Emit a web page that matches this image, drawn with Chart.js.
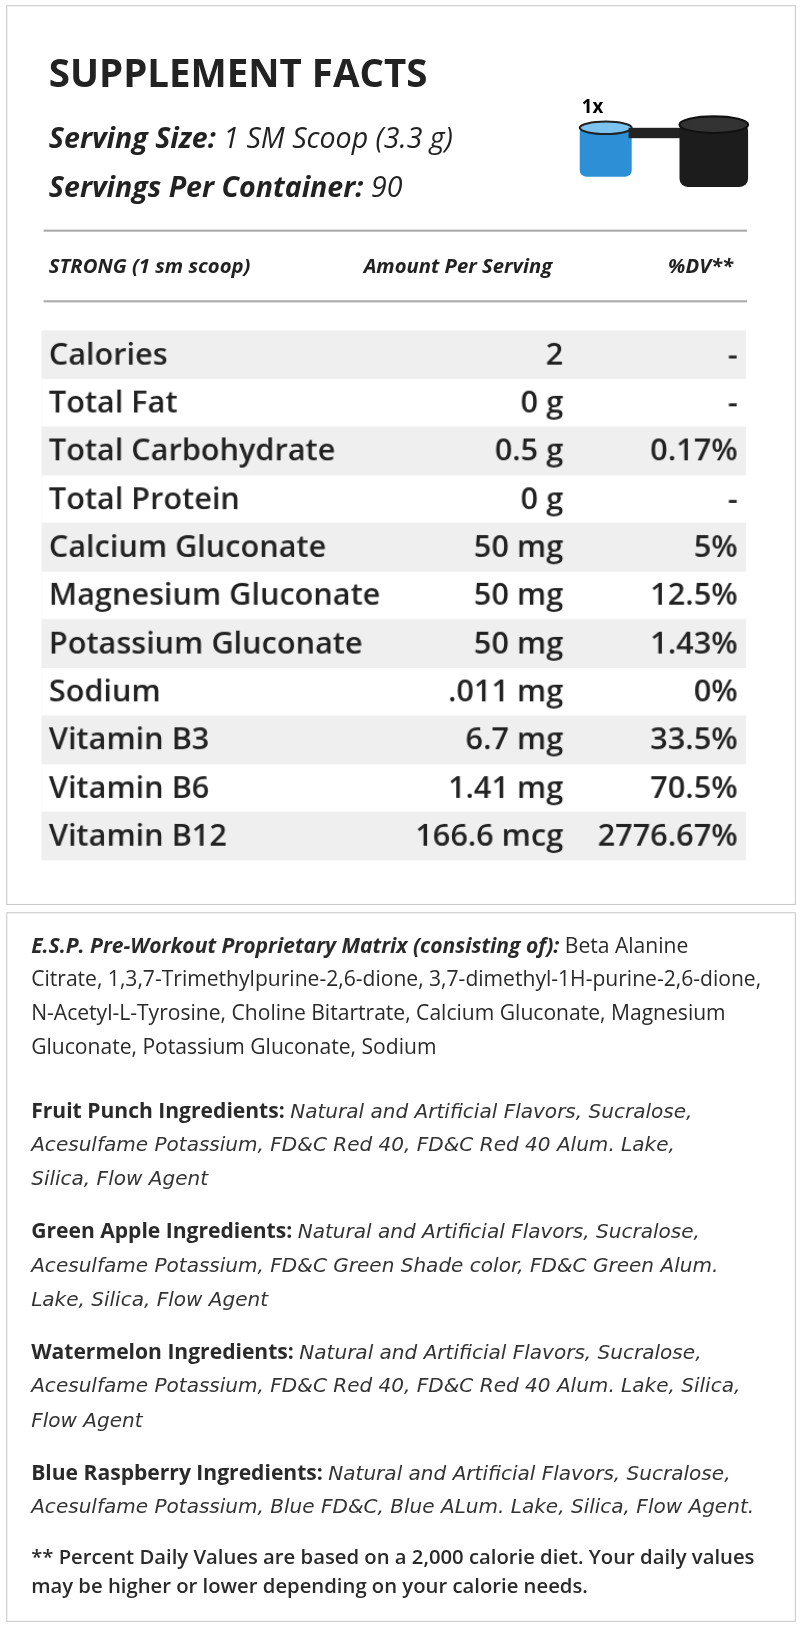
<!DOCTYPE html>
<html><head><meta charset="utf-8">
<script src="https://cdn.jsdelivr.net/npm/chart.js@4"></script>
<style>
body{margin:0;background:#fff;font-family:"Open Sans",sans-serif;color:#222;width:800px;height:1627px;overflow:hidden}
#w{position:absolute;left:0;top:0;width:770px;height:1566px;transform:scale(1.039);transform-origin:0 0}
.box{position:absolute;border:1px solid #c8c8c8;box-sizing:border-box}
.abs{position:absolute;white-space:nowrap}
.hr{position:absolute;left:42px;width:677px;height:2px;background:#aaa}
p{margin:0}
#b2 p{font-size:20.3px;line-height:32.3px;color:#2a2a2a}
#b2 i.f{font-family:"DejaVu Sans";font-size:19.3px;color:#333;line-height:1}
</style></head><body><div id="w">
<div class="box" style="left:6px;top:5px;width:760px;height:866px"></div>
<div class="abs" style="left:47px;top:44px;font-size:37px;font-weight:700">SUPPLEMENT FACTS</div>
<div class="abs" style="left:47px;top:113px;font-size:27.5px;font-weight:700;font-style:italic">Serving Size: <span style="font-weight:400">1 SM Scoop (3.3 g)</span></div>
<div class="abs" style="left:47px;top:161px;font-size:27.5px;font-weight:700;font-style:italic">Servings Per Container: <span style="font-weight:400">90</span></div>
<svg class="abs" style="left:550px;top:90px" width="180" height="95">
<text x="10" y="19" font-size="18" font-weight="700" font-family="Open Sans">1x</text>
<rect x="8" y="32" width="50" height="48" rx="6" fill="#2d8fd5"/>
<ellipse cx="33" cy="33" rx="25" ry="6" fill="#7cc3ef" stroke="#222" stroke-width="2"/>
<rect x="55" y="33" width="50" height="10" fill="#222"/>
<rect x="104" y="28" width="66" height="62" rx="8" fill="#1c1c1c"/>
<ellipse cx="137" cy="30" rx="33" ry="8" fill="#333" stroke="#111" stroke-width="2"/>
</svg>
<div class="hr" style="top:221px"></div>
<div class="abs" style="left:47px;top:242px;font-size:19.5px;font-weight:700;font-style:italic">STRONG (1 sm scoop)</div>
<div class="abs" style="left:350px;top:242px;font-size:19.5px;font-weight:700;font-style:italic">Amount Per Serving</div>
<div class="abs" style="left:643px;top:242px;font-size:19.5px;font-weight:700;font-style:italic">%DV**</div>
<div class="hr" style="top:289px"></div>
<div class="abs" style="left:40px;top:318px;width:678px;height:510px"><canvas id="c"></canvas></div>

<div class="box" style="left:6px;top:878px;width:760px;height:683px"></div>
<div id="b2" class="abs" style="left:30px;top:893px;width:722px;white-space:normal">
<p><b><i>E.S.P. Pre-Workout Proprietary Matrix (consisting of):</i></b> Beta Alanine<br>Citrate, 1,3,7-Trimethylpurine-2,6-dione, 3,7-dimethyl-1H-purine-2,6-dione,<br>N-Acetyl-L-Tyrosine, Choline Bitartrate, Calcium Gluconate, Magnesium<br>Gluconate, Potassium Gluconate, Sodium</p>
<p style="margin-top:30px"><b>Fruit Punch Ingredients:</b> <i class="f">Natural and Artificial Flavors, Sucralose,<br>Acesulfame Potassium, FD&amp;C Red 40, FD&amp;C Red 40 Alum. Lake,<br>Silica, Flow Agent</i></p>
<p style="margin-top:19px"><b>Green Apple Ingredients:</b> <i class="f">Natural and Artificial Flavors, Sucralose,<br>Acesulfame Potassium, FD&amp;C Green Shade color, FD&amp;C Green Alum.<br>Lake, Silica, Flow Agent</i></p>
<p style="margin-top:19px"><b>Watermelon Ingredients:</b> <i class="f">Natural and Artificial Flavors, Sucralose,<br>Acesulfame Potassium, FD&amp;C Red 40, FD&amp;C Red 40 Alum. Lake, Silica,<br>Flow Agent</i></p>
<p style="margin-top:19px"><b>Blue Raspberry Ingredients:</b> <i class="f">Natural and Artificial Flavors, Sucralose,<br>Acesulfame Potassium, Blue FD&amp;C, Blue ALum. Lake, Silica, Flow Agent.</i></p>
<p style="margin-top:20px;font-weight:600;font-size:19.5px !important;line-height:28px !important">** Percent Daily Values are based on a 2,000 calorie diet. Your daily values<br>may be higher or lower depending on your calorie needs.</p>
</div>
<script>
const nutrients=["Calories","Total Fat","Total Carbohydrate","Total Protein","Calcium Gluconate","Magnesium Gluconate","Potassium Gluconate","Sodium","Vitamin B3","Vitamin B6","Vitamin B12"];
const amounts=["2","0 g","0.5 g","0 g","50 mg","50 mg","50 mg",".011 mg","6.7 mg","1.41 mg","166.6 mcg"];
const dvs=["-","-","0.17%","-","5%","12.5%","1.43%","0%","33.5%","70.5%","2776.67%"];
const bands=nutrients.map((_,i)=>i%2===0?1:0);
const textPlugin={id:'txt',afterDatasetsDraw(ch){
 const c=ch.ctx,y=ch.scales.y;c.save();c.fillStyle='#222';c.font='600 29.5px "Open Sans"';c.textBaseline='middle';
 nutrients.forEach((n,i)=>{const py=y.getPixelForValue(i)+1;
  c.textAlign='left';c.fillText(n,7,py);c.textAlign='right';c.fillText(amounts[i],502,py);c.fillText(dvs[i],670,py);});
 c.restore();}};
new Chart(document.getElementById('c'),{type:'bar',data:{labels:nutrients,datasets:[{data:bands,backgroundColor:'#efefef',barPercentage:1,categoryPercentage:1}]},
options:{indexAxis:'y',responsive:true,maintainAspectRatio:false,animation:false,layout:{padding:0},
plugins:{legend:{display:false},tooltip:{enabled:false}},
scales:{x:{display:false,min:0,max:1},y:{display:false}}},plugins:[textPlugin]});
</script>
</div></body></html>
